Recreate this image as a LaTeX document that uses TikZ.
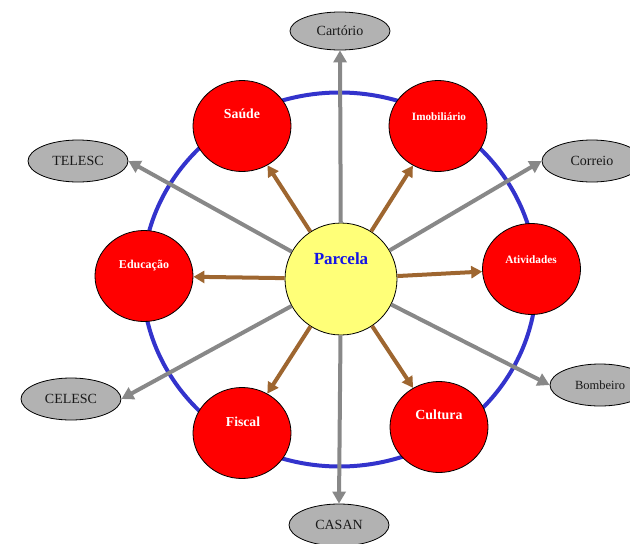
\documentclass[tikz,border=0pt]{standalone}
\usepackage{fontspec}
\setmainfont{Liberation Serif}
\usepackage{tikz}
\usetikzlibrary{arrows.meta}
\usetikzlibrary{shapes.geometric}

\definecolor{anelazul}{RGB}{51,51,204}
\definecolor{ligacinza}{RGB}{136,136,136}
\definecolor{ligamarrom}{RGB}{158,102,48}
\definecolor{orgaofundo}{RGB}{178,178,178}
\definecolor{parcelafundo}{RGB}{255,255,120}
\definecolor{parcelatexto}{RGB}{20,20,230}

\begin{document}
\begin{tikzpicture}[x=1pt, y=-1pt,
  parcela/.style={circle, draw=black, line width=0.8pt, fill=parcelafundo, minimum size=112pt, inner sep=0pt},
  area/.style={ellipse, draw=black, line width=0.8pt, fill=red, minimum width=98pt, minimum height=91pt, inner sep=0pt},
  areatxt/.style={text=white, inner sep=0pt, font=\bfseries\fontsize{#1}{#1}\selectfont},
  orgao/.style={ellipse, draw=black, line width=0.8pt, fill=orgaofundo, minimum width=100pt, minimum height=42pt, inner sep=0pt, text=black!90, font=\fontsize{14}{16}\selectfont},
  liga/.style={line width=4pt, draw=ligacinza, -{Triangle[length=12pt,width=13pt]}},
  ramo/.style={line width=4pt, draw=ligamarrom, -{Triangle[length=11pt,width=12pt]}}]
\useasboundingbox (0,0) rectangle (630,544);
\clip (0,0) rectangle (630,544);

\coordinate (C) at (339.5,279.5);
\draw[anelazul, line width=4pt] (C) ellipse [x radius=197, y radius=187];

\node[orgao, minimum height=38pt] (cartorio) at (340,31) {Cartório};
\node[orgao] (telesc) at (78,161) {TELESC};
\node[orgao] (correio) at (592,161) {Correio};
\node[orgao] (celesc) at (71,399) {CELESC};
\node[orgao, font=\fontsize{12.5}{14}\selectfont] (bombeiro) at (600,385) {Bombeiro};
\node[orgao] (casan) at (339,525) {CASAN};

\node[parcela] (parcela) at (341,279) {};

\draw[liga] (parcela) -- (cartorio.south);
\draw[liga] (parcela) -- (casan.north);
\draw[liga] (parcela) -- (telesc.east);
\draw[liga] (parcela) -- (celesc.east);
\draw[liga] (parcela) -- (correio.west);
\draw[liga] (parcela) -- (bombeiro.west);

\node[area] (saude) at (242,126) {};
\node[area] (imob) at (438,126) {};
\node[area] (educ) at (144,276) {};
\node[area] (ativ) at (531.5,269) {};
\node[area] (fiscal) at (242,433) {};
\node[area] (cultura) at (439,427) {};

\draw[ramo] (parcela) -- (saude);
\draw[ramo] (parcela) -- (imob);
\draw[ramo] (parcela) -- (educ);
\draw[ramo] (parcela) -- (ativ);
\draw[ramo] (parcela) -- (fiscal);
\draw[ramo] (parcela) -- (cultura);

\node[text=parcelatexto, font=\bfseries\fontsize{17}{17}\selectfont] (parcelatxt) at (341,259) {Parcela};

\node[areatxt=13.8] (saudetxt) at (242,114) {Saúde};
\node[areatxt=11.2] (imobtxt) at (439,117) {Imobiliário};
\node[areatxt=12] (eductxt) at (144,266) {Educação};
\node[areatxt=11.3] (ativtxt) at (531,260) {Atividades};
\node[areatxt=13.7] (fiscaltxt) at (243,422) {Fiscal};
\node[areatxt=13.9] (culturatxt) at (439,415) {Cultura};

\end{tikzpicture}
\end{document}
